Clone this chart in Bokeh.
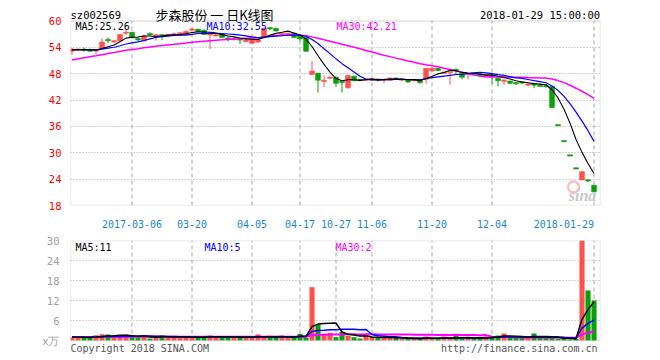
import numpy as np
from bokeh.plotting import figure
from bokeh.layouts import column
from bokeh.models import Range1d, FixedTicker, BoxAnnotation
from bokeh.core.properties import value
from bokeh.embed import file_html
from bokeh.resources import INLINE

# ---------------- data ----------------
opens = [53.1, 53.4, 53.45, 53.3, 53.2, 53.8, 55.7, 55.3, 55.4, 57.3,
         57.4, 55.85, 55.4, 57.0, 56.7, 56.75, 56.8, 56.9, 56.7, 56.9,
         58.0, 58.1, 57.9, 56.9, 56.7, 56.9, 56.0, 55.9, 55.8, 55.3,
         54.9, 55.2, 56.2, 58.35, 58.3, 57.0, 57.0, 57.2, 56.5, 56.2,
         47.8, 48.1, 46.35, 47.05, 47.2, 46.15, 44.8, 47.4, 46.7, 46.6,
         46.5, 46.7, 46.6, 46.5, 47.0, 46.6, 46.5, 46.4, 46.6, 46.7,
         48.6, 49.2, 48.2, 48.4, 48.85, 48.1, 47.9, 48.1, 48.1, 47.7,
         47.5, 46.9, 46.4, 46.3, 45.85, 46.05, 45.5, 45.55, 45.25, 45.15,
         45.1, 36.27, 32.64, 29.38, 26.44, 23.8, 23.75, 22.6]
highs = [53.8, 53.7, 53.9, 53.7, 53.5, 56.0, 56.2, 55.6, 57.0, 57.9,
         57.5, 56.2, 56.8, 57.4, 57.0, 57.0, 57.0, 57.3, 57.5, 57.9,
         58.4, 58.2, 58.0, 57.2, 57.0, 57.0, 56.5, 56.2, 56.0, 55.9,
         56.0, 55.9, 58.5, 58.6, 58.4, 57.3, 57.3, 57.3, 56.6, 56.3,
         50.9, 48.2, 47.6, 47.3, 47.3, 46.4, 47.7, 47.5, 46.8, 46.8,
         47.0, 46.8, 46.8, 47.1, 47.1, 46.9, 46.6, 46.8, 46.7, 49.3,
         49.5, 49.3, 48.4, 48.6, 49.2, 48.2, 48.1, 48.2, 48.2, 47.9,
         47.7, 47.0, 46.7, 46.4, 46.1, 46.3, 45.8, 45.8, 45.7, 45.6,
         45.3, 36.27, 32.64, 29.38, 26.44, 25.9, 23.9, 22.7]
lows = [52.3, 53.2, 53.0, 52.9, 52.4, 53.6, 55.0, 55.0, 55.3, 56.8,
        56.0, 55.3, 55.3, 56.6, 55.5, 55.6, 56.6, 56.5, 56.5, 56.8,
        57.6, 57.5, 56.8, 53.6, 56.4, 56.1, 55.3, 55.6, 54.7, 55.1,
        54.8, 55.0, 56.0, 57.9, 57.6, 56.8, 56.7, 56.1, 55.4, 52.9,
        47.7, 43.7, 45.0, 46.8, 45.0, 43.7, 44.6, 46.3, 46.3, 46.4,
        46.4, 46.2, 45.8, 46.4, 46.6, 46.3, 45.9, 46.3, 45.8, 45.7,
        48.5, 48.6, 48.0, 45.5, 47.7, 46.7, 46.7, 47.8, 47.4, 47.5,
        45.7, 45.1, 45.5, 45.6, 45.4, 45.6, 45.2, 44.7, 45.1, 44.9,
        40.1, 36.27, 32.64, 29.38, 26.44, 23.8, 23.3, 21.0]
closes = [53.6, 53.5, 53.4, 53.2, 53.3, 55.2, 55.6, 55.35, 56.9, 57.35,
          56.2, 55.8, 56.6, 56.95, 56.75, 56.7, 56.85, 56.95, 57.3, 57.6,
          58.05, 57.6, 56.9, 56.95, 56.75, 56.2, 55.95, 55.95, 55.75, 55.7,
          55.8, 55.7, 58.3, 58.3, 57.7, 57.05, 57.05, 56.2, 55.9, 53.1,
          48.6, 46.5, 46.4, 47.1, 45.8, 46.1, 47.6, 46.4, 46.4, 46.65,
          46.9, 46.6, 46.65, 47.0, 46.7, 46.7, 46.1, 46.7, 45.9, 49.2,
          49.2, 48.7, 48.25, 48.45, 48.8, 47.2, 47.95, 47.95, 47.5, 47.75,
          47.45, 46.4, 46.45, 45.8, 45.8, 46.0, 45.55, 45.5, 45.2, 45.1,
          40.3, 36.27, 32.64, 29.38, 26.44, 25.7, 23.7, 21.1]
volumes = [1.0, 1.0, 0.8, 0.8, 1.6, 1.9, 1.8, 1.0, 1.4, 1.8,
           1.0, 1.0, 1.4, 0.6, 1.0, 1.5, 1.0, 1.0, 1.0, 1.0,
           1.0, 1.0, 1.0, 1.5, 1.0, 1.0, 1.0, 1.0, 0.8, 0.9,
           1.0, 1.8, 1.0, 1.0, 0.9, 1.4, 1.0, 1.0, 2.0, 0.8,
           16.0, 4.8, 2.0, 2.3, 1.0, 2.6, 1.4, 1.0, 0.6, 1.4,
           1.0, 0.8, 0.8, 0.8, 0.8, 0.5, 0.5, 0.5, 0.5, 1.2,
           0.5, 0.5, 1.2, 0.5, 1.5, 0.5, 0.8, 0.5, 0.8, 1.2,
           1.2, 1.5, 2.1, 0.8, 0.8, 0.8, 0.8, 2.1, 0.8, 0.8,
           0.8, 0.5, 0.5, 0.3, 0.5, 30.0, 15.0, 12.0]
# sessions before the first visible candle (needed for the moving averages)
pre_closes = [45.5, 46.0, 46.6, 47.1, 47.6, 48.1, 48.6, 49.1, 49.6, 50.1,
              50.6, 51.0, 51.4, 51.8, 52.1, 52.4, 52.7, 52.9, 53.1, 53.2,
              53.3, 53.4, 53.5, 53.4, 53.5, 53.4, 53.3, 53.5, 53.4]
pre_volumes = [1.2, 0.9, 1.1, 1.3, 1.0, 0.8, 1.2, 1.1, 0.9, 1.0,
               1.4, 1.2, 0.9, 1.0, 1.1, 1.3, 1.0, 0.9, 1.2, 1.1,
               1.0, 0.8, 1.1, 1.2, 0.9, 1.0, 1.1, 1.0, 0.9]
tick_idx = [10, 20, 30, 38, 44, 50, 60, 70, 87]
tick_labels = ["2017-03-06", "03-20", "04-05", "04-17", "10-27", "11-06",
               "11-20", "12-04", "2018-01-29"]
price_ticks = [18, 24, 30, 36, 42, 48, 54, 60]
vol_ticks = [0, 6, 12, 18, 24, 30]
header_code = "sz002569"
header_title = "步森股份 一 日K线图"
header_time = "2018-01-29 15:00:00"
price_ma_text = ["MA5:25.26", "MA10:32.55", "MA30:42.21"]
vol_ma_text = ["MA5:11", "MA10:5", "MA30:2"]
footer_left = "Copyright 2018 SINA.COM"
footer_right = "http://finance.sina.com.cn"

# ---------------- derived ----------------
n = len(closes)
xs = list(range(n))


def moving_avg(vals, pre, k):
    full = list(pre) + list(vals)
    m = len(pre)
    return [float(np.mean(full[m + i - k + 1:m + i + 1])) for i in range(len(vals))]


RED = "#ff5050"
GREEN = "#0aa00a"
GRID = "#a8a8a8"
FRAME = "#a0a0a0"
XLAB = "#1a86d2"
colors = [RED if c > o else GREEN for o, c in zip(opens, closes)]

MONO = "DejaVu Sans Mono"
FS = "10px"
XR0, XR1 = -0.25, 88.08
YMIN, YMAX = price_ticks[0], price_ticks[-1]
PPX = (YMAX - YMIN) / 190.0          # price units per pixel
VMIN, VMAX = vol_ticks[0], vol_ticks[-1]
VPX = (VMAX - VMIN) / 100.0          # volume units per pixel


def px_x(px):
    return XR0 + (px - 70) / 6.0


def px_y(py):
    return YMIN + (211 - py) * PPX


def px_v(py):
    return VMIN + (340 - py) * VPX


# ---------------- price panel (frame reaches the top of the page) ----------------
p = figure(width=660, height=232, x_range=Range1d(XR0, XR1),
           y_range=Range1d(YMIN, YMIN + 211 * PPX),
           output_backend="svg", toolbar_location=None, title=None,
           min_border_left=70, min_border_right=60, min_border_top=0, min_border_bottom=21)
p.background_fill_color = "white"
p.border_fill_color = "white"
p.outline_line_color = None
p.add_layout(BoxAnnotation(left=XR0, right=XR1, bottom=YMIN, top=YMAX, fill_color=None,
                           line_color=FRAME, line_width=1.5, level="overlay"))

p.yaxis.ticker = FixedTicker(ticks=price_ticks)
p.yaxis.axis_line_color = None
p.yaxis.major_tick_line_color = None
p.yaxis.minor_tick_line_color = None
p.yaxis.major_label_text_color = "#ff0000"
p.yaxis.major_label_text_font = MONO
p.yaxis.major_label_text_font_size = "10.5px"
p.yaxis.major_label_standoff = 3

# last label is right-aligned on its tick: pad it on the right with no-break spaces
overrides = {t: l for t, l in zip(tick_idx, tick_labels)}
overrides[tick_idx[-1]] = tick_labels[-1] + "\u00a0" * len(tick_labels[-1])
p.xaxis.ticker = FixedTicker(ticks=tick_idx)
p.xaxis.major_label_overrides = overrides
p.xaxis.axis_line_color = None
p.xaxis.major_tick_line_color = None
p.xaxis.minor_tick_line_color = None
p.xaxis.major_label_text_color = XLAB
p.xaxis.major_label_text_font = MONO
p.xaxis.major_label_text_font_size = FS
p.xaxis.major_label_standoff = 7

p.ygrid.ticker = FixedTicker(ticks=price_ticks[1:-1])
p.ygrid.grid_line_color = GRID
p.ygrid.grid_line_dash = "1 2"
p.xgrid.visible = False
main_vticks = [t for t in tick_idx if t != 44]
p.segment(x0=main_vticks, y0=[YMIN] * len(main_vticks), x1=main_vticks, y1=[YMAX] * len(main_vticks),
          line_color=GRID, line_dash="4 3", line_width=1)

# candles
min_h = 1.3 * PPX
bot, top = [], []
for o, c in zip(opens, closes):
    lo, hi = min(o, c), max(o, c)
    if hi - lo < min_h:
        mid = (hi + lo) / 2
        lo, hi = mid - min_h / 2, mid + min_h / 2
    bot.append(lo)
    top.append(hi)
p.segment(x0=xs, y0=lows, x1=xs, y1=highs, line_color=colors, line_width=1)
p.quad(left=[x - 0.4 for x in xs], right=[x + 0.4 for x in xs], bottom=bot, top=top,
       fill_color=colors, line_color=colors, line_width=0.6)

p.line(xs, moving_avg(closes, pre_closes, 30), line_color="#ff00ff", line_width=1.5)
p.line(xs, moving_avg(closes, pre_closes, 10), line_color="#0000ff", line_width=1.2)
p.line(xs, moving_avg(closes, pre_closes, 5), line_color="#000000", line_width=1.1)

# sina watermark
p.scatter([px_x(573)], [px_y(192)], size=11, marker="circle", fill_color=None,
          line_color="#f6c0c0", line_width=2.5)
p.text(x=[px_x(582)], y=[px_y(201)], text=["sina"], text_align="center",
       text_baseline="middle", text_color="#c8c8c8", text_font=value("Verdana"),
       text_font_size="16px", text_font_style="bold italic")

# header line
p.text(x=[px_x(70)], y=[px_y(14.5)], text=[header_code], text_align="left",
       text_baseline="middle", text_color="#000000", text_font=value(MONO), text_font_size="10.5px")
p.text(x=[px_x(214)], y=[px_y(14.5)], text=[header_title], text_align="center",
       text_baseline="middle", text_color="#000000", text_font=value("Noto Sans CJK SC"),
       text_font_size="13px")
p.text(x=[px_x(599.5)], y=[px_y(14.5)], text=[header_time], text_align="right",
       text_baseline="middle", text_color="#000000", text_font=value(MONO), text_font_size="10.5px")
p.text(x=[px_x(75), px_x(206), px_x(336)], y=[px_y(26.5)] * 3, text=price_ma_text,
       text_align="left", text_baseline="middle", text_color=["#000000", "#0000ff", "#ff00ff"],
       text_font=value(MONO), text_font_size=FS)

# ---------------- volume panel (frame reaches the bottom of the page) ----------------
v = figure(width=660, height=128, x_range=p.x_range, y_range=Range1d(VMIN - 20 * VPX, VMAX),
           output_backend="svg", toolbar_location=None, title=None,
           min_border_left=70, min_border_right=60, min_border_top=8, min_border_bottom=0)
v.background_fill_color = "white"
v.border_fill_color = "white"
v.outline_line_color = None
v.add_layout(BoxAnnotation(left=XR0, right=XR1, bottom=VMIN, top=VMAX, fill_color=None,
                           line_color=FRAME, line_width=1.5, level="overlay"))
v.xaxis.visible = False
v.yaxis.ticker = FixedTicker(ticks=vol_ticks)
v.yaxis.major_label_overrides = {0: "x万"}
v.yaxis.axis_line_color = None
v.yaxis.major_tick_line_color = None
v.yaxis.minor_tick_line_color = None
v.yaxis.major_label_text_color = "#a0a0a0"
v.yaxis.major_label_text_font = MONO
v.yaxis.major_label_text_font_size = "10.5px"
v.yaxis.major_label_standoff = 5
v.ygrid.ticker = FixedTicker(ticks=vol_ticks[1:-1])
v.ygrid.grid_line_color = GRID
v.ygrid.grid_line_dash = "1 2"
v.xgrid.visible = False
v.segment(x0=tick_idx, y0=[VMIN] * len(tick_idx), x1=tick_idx, y1=[VMAX] * len(tick_idx),
          line_color=GRID, line_dash="4 3", line_width=1)

v.vbar(x=xs, width=0.85, bottom=0, top=volumes, fill_color=colors, line_color=None)
v.line(xs, moving_avg(volumes, pre_volumes, 30), line_color="#ff00ff", line_width=2)
v.line(xs, moving_avg(volumes, pre_volumes, 10), line_color="#0000ff", line_width=1.5)
v.line(xs, moving_avg(volumes, pre_volumes, 5), line_color="#000000", line_width=1.5)

v.text(x=[px_x(75), px_x(204), px_x(335)], y=[px_v(246.5)] * 3, text=vol_ma_text,
       text_align="left", text_baseline="middle", text_color=["#000000", "#0000ff", "#ff00ff"],
       text_font=value(MONO), text_font_size=FS)
v.text(x=[px_x(70)], y=[px_v(348)], text=[footer_left], text_align="left",
       text_baseline="middle", text_color="#555555", text_font=value(MONO), text_font_size=FS)
v.text(x=[px_x(597)], y=[px_v(348)], text=[footer_right], text_align="right",
       text_baseline="middle", text_color="#555555", text_font=value(MONO), text_font_size=FS)

layout = column(p, v, spacing=0)
open("out.html", "w").write(file_html(layout, INLINE))
